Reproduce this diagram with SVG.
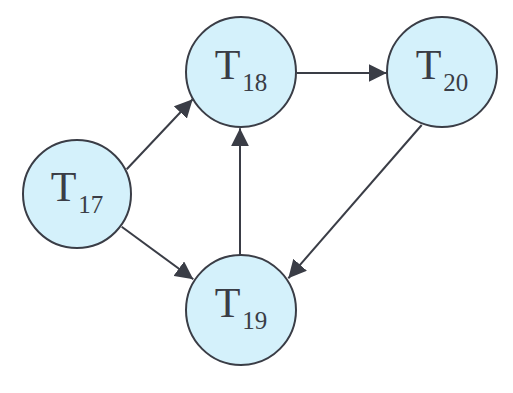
<svg xmlns="http://www.w3.org/2000/svg" width="513" height="393" viewBox="0 0 513 393">
<style>
.node circle{fill:#d4f1fb;stroke:#3a3d46;stroke-width:2}
.node text{font-family:"Liberation Serif","Times New Roman",serif;font-size:42px;fill:#3a3d46;text-anchor:middle}
.node tspan{font-size:25px}
.edge{stroke:#3a3d46;stroke-width:2;fill:none;marker-end:url(#arr)}
</style>
<defs>
<marker id="arr" viewBox="0 0 18 18" refX="18" refY="9" markerWidth="18" markerHeight="18" markerUnits="userSpaceOnUse" orient="auto">
<path d="M0,0 L18,9 L0,18 Z" fill="#3a3d46"/>
</marker>
</defs>
<rect width="513" height="393" fill="#ffffff"/>
<g id="connectors">
<line class="edge" x1="126.7" y1="169.3" x2="192.7" y2="99.3"/>
<line class="edge" x1="121.7" y1="226.7" x2="193.3" y2="279.3"/>
<line class="edge" x1="240" y1="255" x2="240" y2="128.3"/>
<line class="edge" x1="296.7" y1="73" x2="386.7" y2="73"/>
<line class="edge" x1="421.7" y1="125" x2="288.3" y2="278.3"/>
</g>
<g id="T17" class="node">
<circle cx="77" cy="194" r="54"/>
<text x="77" y="201">T<tspan dx="2" dy="12">17</tspan></text>
</g>
<g id="T18" class="node">
<circle cx="241" cy="72" r="55"/>
<text x="241" y="79">T<tspan dx="2" dy="12">18</tspan></text>
</g>
<g id="T20" class="node">
<circle cx="442" cy="72" r="55"/>
<text x="442" y="79">T<tspan dx="2" dy="12">20</tspan></text>
</g>
<g id="T19" class="node">
<circle cx="241" cy="310" r="55"/>
<text x="241" y="317">T<tspan dx="2" dy="12">19</tspan></text>
</g>
</svg>
